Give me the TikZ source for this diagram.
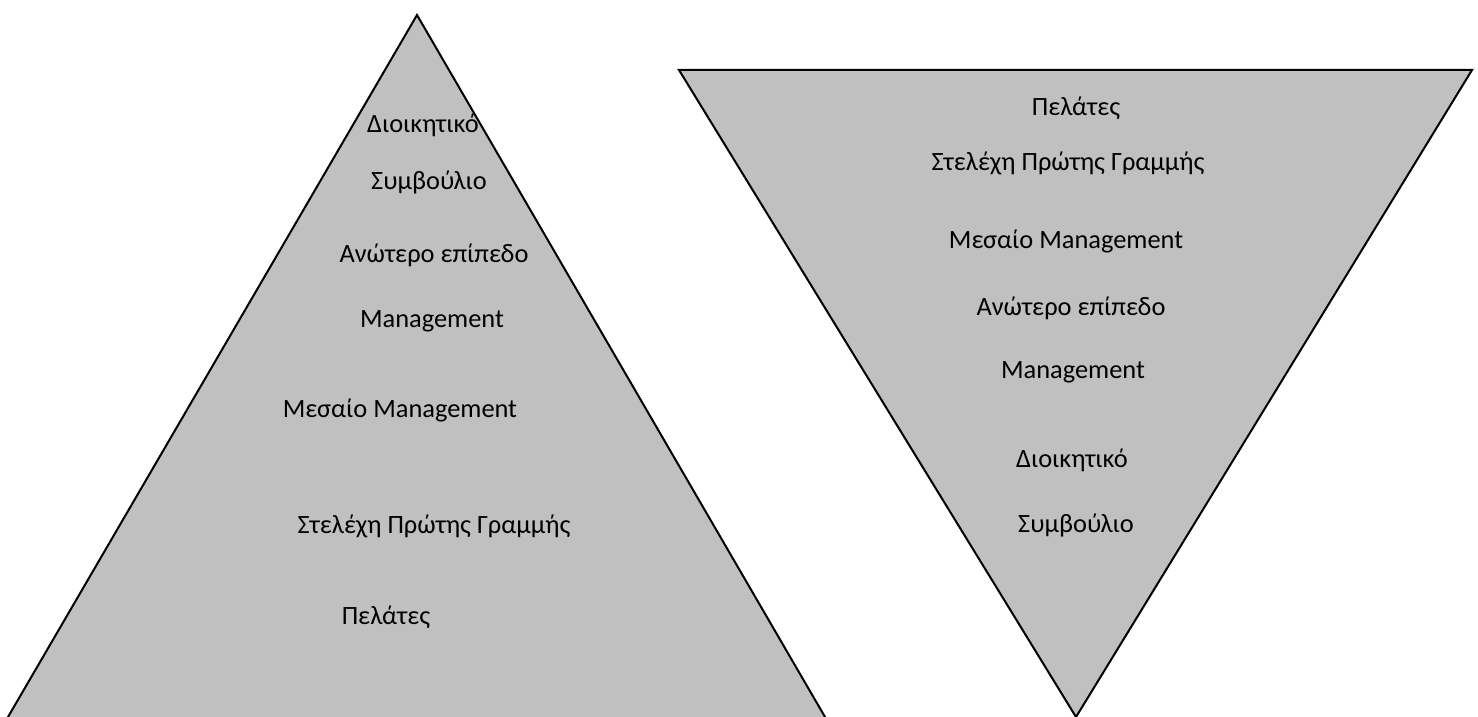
\documentclass[tikz,border=0pt]{standalone}
\usepackage{fontspec}
\setmainfont{Carlito}
\definecolor{tri}{HTML}{C0C0C0}
\begin{document}
\begin{tikzpicture}[x=0.5pt,y=-0.5pt,
  face/.style={fill=tri,draw=black,line width=1pt,line join=miter},
  lbl/.style={font=\fontsize{13.2}{15}\selectfont,inner sep=0pt}]
\useasboundingbox (0,0) rectangle (1478,717);
% upright pyramid, base below the frame
\begin{scope}
  \clip (0,0) rectangle (1478,717);
  \path[face] (417,15) -- (1,729) -- (832,729) -- cycle;
\end{scope}
% inverted pyramid
\path[face] (679,70) -- (1472,70) -- (1076,717) -- cycle;

\node[lbl] (l1) at (423,125) {Διοικητικό};
\node[lbl] (l2) at (429,182) {Συμβούλιο};
\node[lbl] (l3) at (434,255) {Ανώτερο επίπεδο};
\node[lbl] (l4) at (432,321) {Management};
\node[lbl] (l5) at (400,410) {Μεσαίο Management};
\node[lbl] (l6) at (434,526) {Στελέχη Πρώτης Γραμμής};
\node[lbl] (l7) at (386,617) {Πελάτες};

\node[lbl] (r1) at (1076,108) {Πελάτες};
\node[lbl] (r2) at (1068,163) {Στελέχη Πρώτης Γραμμής};
\node[lbl] (r3) at (1066,241) {Μεσαίο Management};
\node[lbl] (r4) at (1071,308) {Ανώτερο επίπεδο};
\node[lbl] (r5) at (1073,372) {Management};
\node[lbl] (r6) at (1072,460) {Διοικητικό};
\node[lbl] (r7) at (1076,525) {Συμβούλιο};
\end{tikzpicture}
\end{document}
